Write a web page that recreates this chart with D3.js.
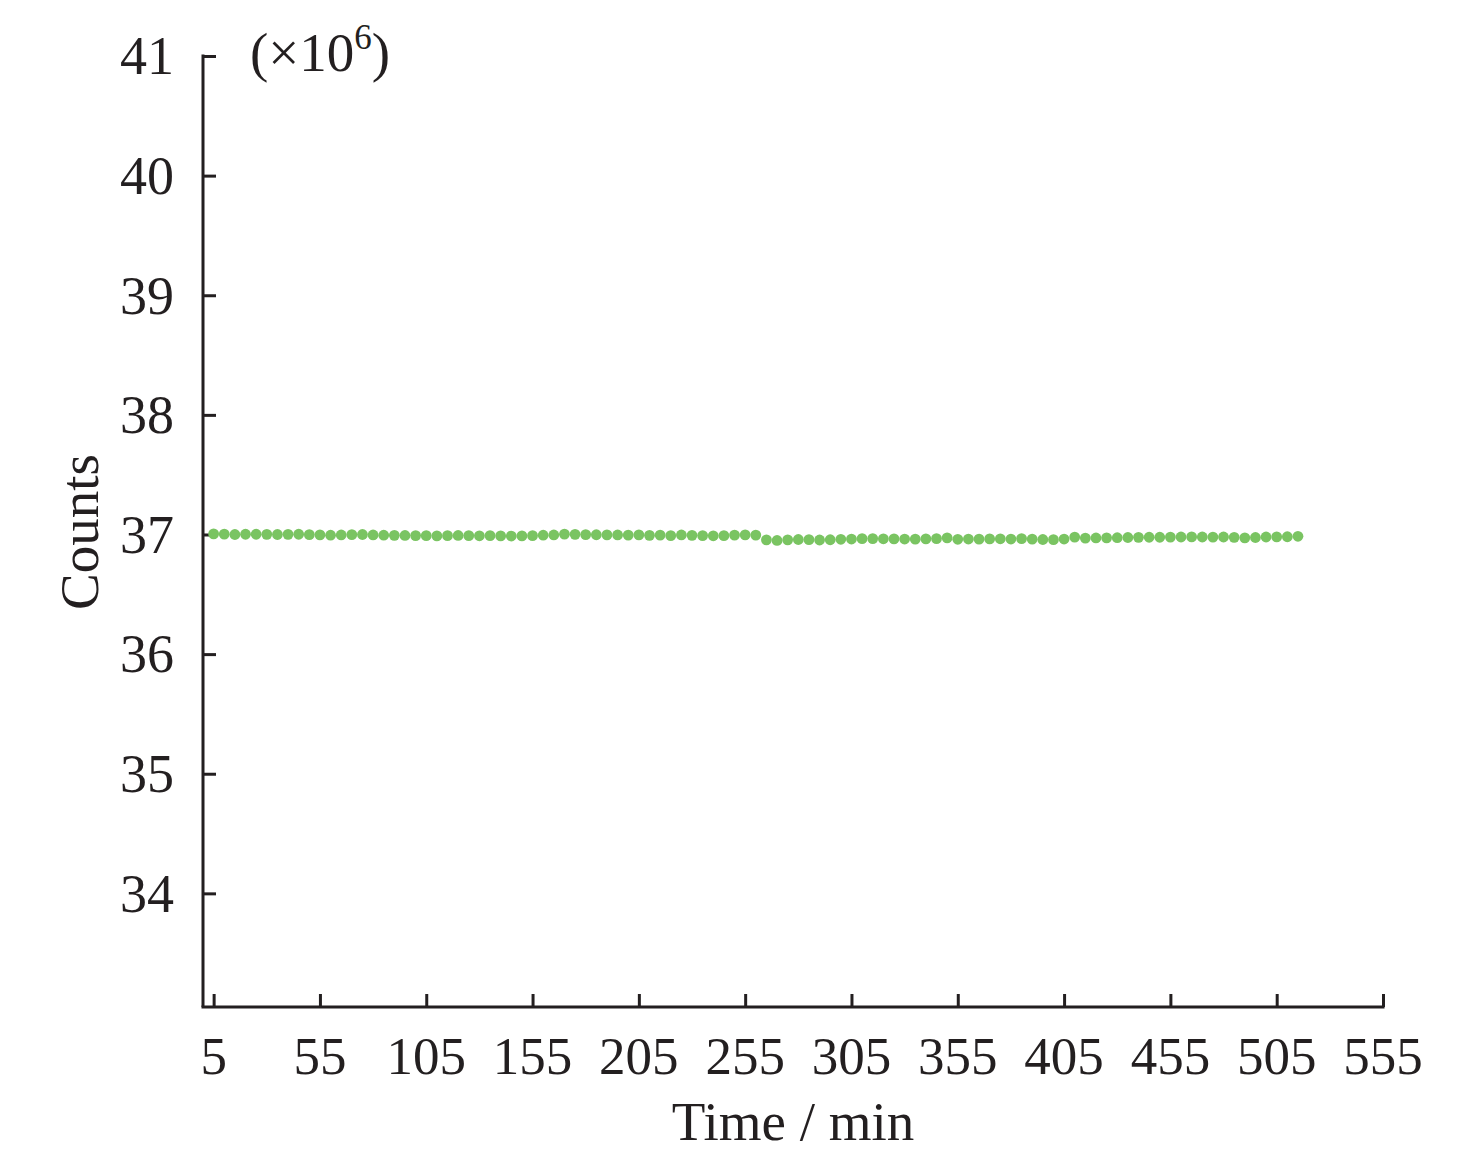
<!DOCTYPE html>
<html>
<head>
<meta charset="utf-8">
<script src="https://cdn.jsdelivr.net/npm/d3@7"></script>
<style>
  body { margin: 0; background: #fff; }
  svg text { font-family: "Liberation Serif", "Times New Roman", serif; fill: #231f20; }
</style>
</head>
<body>
<svg id="chart" width="1476" height="1159"></svg>
<script>
// Counts (x10^6) sampled every 5 minutes
const times = [
  5, 10, 15, 20, 25, 30, 35, 40, 45, 50, 55, 60, 65, 70, 75, 80, 85, 90, 95, 100,
  105, 110, 115, 120, 125, 130, 135, 140, 145, 150, 155, 160, 165, 170, 175, 180,
  185, 190, 195, 200, 205, 210, 215, 220, 225, 230, 235, 240, 245, 250, 255, 260,
  265, 270, 275, 280, 285, 290, 295, 300, 305, 310, 315, 320, 325, 330, 335, 340,
  345, 350, 355, 360, 365, 370, 375, 380, 385, 390, 395, 400, 405, 410, 415, 420,
  425, 430, 435, 440, 445, 450, 455, 460, 465, 470, 475, 480, 485, 490, 495, 500,
  505, 510, 515
];
const counts = [
  37.005, 37.003, 37.000, 37.002, 37.002, 37.001, 37.000, 37.001, 37.002, 36.999,
  36.997, 36.994, 36.996, 36.999, 37.000, 36.996, 36.994, 36.993, 36.992, 36.991,
  36.990, 36.988, 36.990, 36.992, 36.991, 36.989, 36.991, 36.988, 36.987, 36.988,
  36.990, 36.994, 36.996, 37.003, 37.001, 36.999, 36.998, 36.997, 36.996, 36.995,
  36.997, 36.993, 36.995, 36.990, 36.996, 36.993, 36.991, 36.989, 36.990, 36.995,
  36.997, 36.995,
  36.955, 36.950, 36.955, 36.958, 36.957, 36.954, 36.956, 36.960, 36.962, 36.965,
  36.966, 36.964, 36.963, 36.962, 36.961, 36.963, 36.966, 36.972, 36.960, 36.962,
  36.961, 36.963, 36.964, 36.962, 36.966, 36.961, 36.958, 36.957, 36.962, 36.978,
  36.970, 36.971, 36.972, 36.973, 36.975, 36.976, 36.977, 36.977, 36.978, 36.979,
  36.980, 36.979, 36.978, 36.979, 36.976, 36.972, 36.975, 36.979, 36.980, 36.981,
  36.985
];
const xTicks = [5, 55, 105, 155, 205, 255, 305, 355, 405, 455, 505, 555];
const yTicks = [34, 35, 36, 37, 38, 39, 40, 41];

const data = times.map((t, i) => ({t: t, v: counts[i]}));

const svg = d3.select("#chart");
const ink = "#231f20";

// Scales
const x = d3.scaleLinear().domain([0, 555]).range([203, 1383]);
const y = d3.scaleLinear().domain([33.05, 41]).range([1007, 56]);

// Y axis (ticks point inward)
const yAxis = svg.append("g")
    .attr("transform", "translate(203,0)")
    .call(d3.axisRight(y).tickValues(yTicks).tickSize(13).tickFormat(""));
yAxis.select(".domain").remove();
yAxis.selectAll("line").attr("stroke", ink).attr("stroke-width", 3);

svg.append("line")
    .attr("x1", 203).attr("x2", 203)
    .attr("y1", y(41) - 1.5).attr("y2", 1007)
    .attr("stroke", ink).attr("stroke-width", 3);

svg.append("g").selectAll("text")
    .data(yTicks)
    .enter()
    .append("text")
    .attr("x", 174)
    .attr("y", d => y(d))
    .attr("dy", "0.34em")
    .attr("text-anchor", "end")
    .attr("font-size", "54px")
    .text(d => d);

// X axis (ticks point inward)
const xAxis = svg.append("g")
    .attr("transform", "translate(0,1007)")
    .call(d3.axisTop(x).tickValues(xTicks).tickSize(13).tickFormat(""));
xAxis.select(".domain").remove();
xAxis.selectAll("line").attr("stroke", ink).attr("stroke-width", 3);

svg.append("line")
    .attr("x1", 201.5).attr("x2", x(555) + 1.5)
    .attr("y1", 1007).attr("y2", 1007)
    .attr("stroke", ink).attr("stroke-width", 3);

svg.append("g").selectAll("text")
    .data(xTicks)
    .enter()
    .append("text")
    .attr("x", d => x(d))
    .attr("y", 1074)
    .attr("text-anchor", "middle")
    .attr("font-size", "53px")
    .text(d => d);

// Axis titles
svg.append("text")
    .attr("x", 793)
    .attr("y", 1140)
    .attr("text-anchor", "middle")
    .attr("font-size", "55px")
    .text("Time / min");

svg.append("text")
    .attr("transform", "translate(98,532) rotate(-90)")
    .attr("text-anchor", "middle")
    .attr("font-size", "55px")
    .text("Counts");

// Unit label
const unit = svg.append("text")
    .attr("x", 250)
    .attr("y", 71)
    .attr("font-size", "55px");
unit.append("tspan").text("(\u00d710");
unit.append("tspan").attr("dy", -22).attr("font-size", "35px").text("6");
unit.append("tspan").attr("dy", 22).text(")");

// Data points
svg.append("g").selectAll("circle")
    .data(data)
    .enter()
    .append("circle")
    .attr("cx", d => x(d.t))
    .attr("cy", d => y(d.v))
    .attr("r", 5.4)
    .attr("fill", "#7ac462");
</script>
</body>
</html>
